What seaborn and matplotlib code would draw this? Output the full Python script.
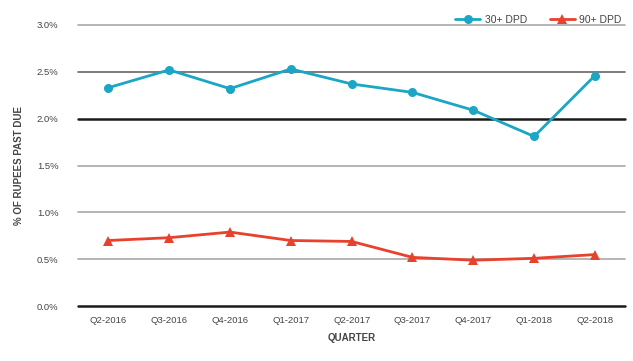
import matplotlib
matplotlib.use("Agg")
import matplotlib.pyplot as plt
import seaborn as sns
import pandas as pd
from matplotlib.ticker import PercentFormatter

quarters = ["Q2-2016", "Q3-2016", "Q4-2016", "Q1-2017", "Q2-2017",
            "Q3-2017", "Q4-2017", "Q1-2018", "Q2-2018"]
dpd30 = [2.33, 2.52, 2.32, 2.53, 2.37, 2.28, 2.09, 1.81, 2.46]
dpd90 = [0.70, 0.73, 0.79, 0.70, 0.69, 0.52, 0.49, 0.51, 0.55]
series_names = ["30+ DPD", "90+ DPD"]
yticks = [0.0, 0.5, 1.0, 1.5, 2.0, 2.5, 3.0]

df = pd.DataFrame({
    "quarter": quarters * 2,
    "value": dpd30 + dpd90,
    "series": [series_names[0]] * len(quarters) + [series_names[1]] * len(quarters),
})

sns.set_style("white")
plt.rcParams["font.family"] = ["Liberation Sans", "DejaVu Sans"]

fig = plt.figure(figsize=(6.33, 3.61), dpi=100)
ax = fig.add_axes([0.123, 0.152, 0.865, 0.779])

palette = {"30+ DPD": "#1aa6c4", "90+ DPD": "#e8412c"}
markers = {"30+ DPD": "o", "90+ DPD": "^"}
sns.lineplot(data=df, x="quarter", y="value", hue="series", style="series",
             markers=markers, dashes=False, palette=palette, linewidth=2.0,
             markersize=6.5, markeredgewidth=0, ax=ax, sort=False)

grid_colors = {0.0: "#1a1a1a", 2.0: "#1a1a1a", 2.5: "#666666"}
for v in yticks:
    c = grid_colors.get(v, "#a8a8a8")
    lw = 1.8 if v in (0.0, 2.0) else 1.2
    ax.axhline(v, color=c, linewidth=lw, zorder=0, clip_on=False)

ax.set_ylim(0, 3.0)
ax.set_xlim(-0.5, 8.5)
ax.set_yticks(yticks)
ax.yaxis.set_major_formatter(PercentFormatter(decimals=1))
for s in ax.spines.values():
    s.set_visible(False)
ax.tick_params(axis="both", length=0, labelsize=6.8, colors="#444444")
ax.tick_params(axis="y", pad=14)
ax.tick_params(axis="x", pad=7)
ax.set_xlabel("QUARTER", fontsize=7, fontweight="bold", color="#444444", labelpad=6)
ax.set_ylabel("% OF RUPEES PAST DUE", fontsize=7, fontweight="bold", color="#444444", labelpad=9)

handles, labels = ax.get_legend_handles_labels()
ax.legend(handles, labels, loc="lower right", bbox_to_anchor=(1.0, 0.985), ncol=2,
          frameon=False, fontsize=7.5, handlelength=2.4, columnspacing=2.2,
          handletextpad=0.4, borderaxespad=0, labelcolor="#444444")

fig.savefig("out.png", dpi=100)
